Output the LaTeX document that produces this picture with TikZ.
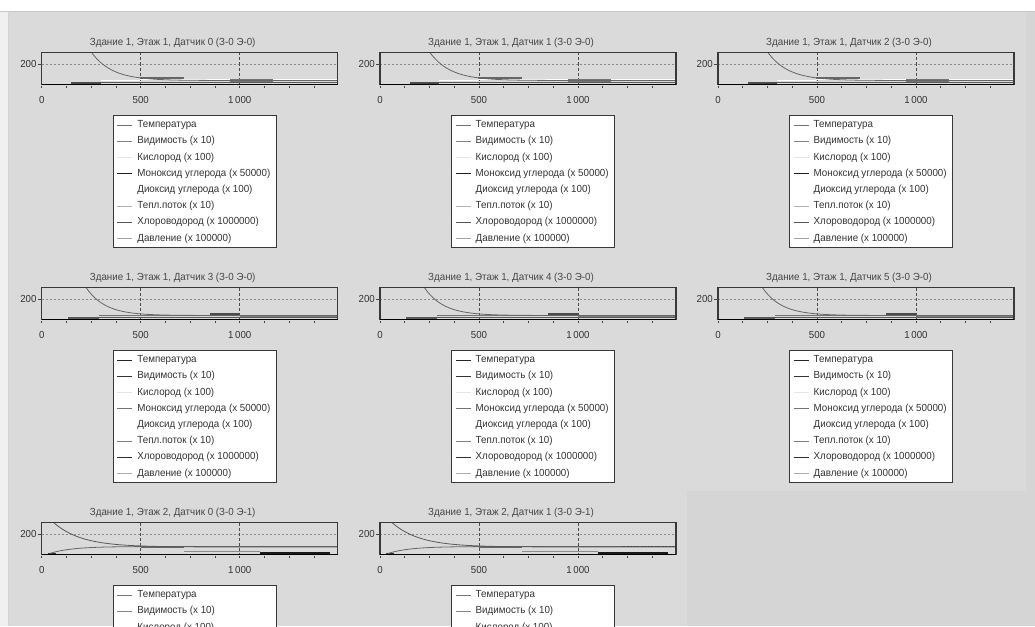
\documentclass[tikz,border=0pt]{standalone}
\usepackage{fontspec}
\setmainfont{Liberation Sans}[FakeStretch=0.95]
\usetikzlibrary{calc}

\definecolor{bgdark}{gray}{0.835}
\definecolor{bglight}{gray}{0.855}
\definecolor{framec}{gray}{0.22}
\definecolor{gridc}{gray}{0.55}
\definecolor{txtc}{gray}{0.20}
\definecolor{ttlc}{gray}{0.28}

% legend line colours, set A (lighter traces) and set B (darker traces)
\definecolor{lcA1}{gray}{0.45}
\definecolor{lcA2}{gray}{0.52}
\definecolor{lcA3}{gray}{0.90}
\definecolor{lcA4}{gray}{0.12}
\definecolor{lcA5}{gray}{1.00}
\definecolor{lcA6}{gray}{0.70}
\definecolor{lcA7}{gray}{0.33}
\definecolor{lcA8}{gray}{0.64}
\definecolor{lcB1}{gray}{0.15}
\definecolor{lcB2}{gray}{0.20}
\definecolor{lcB3}{gray}{0.90}
\definecolor{lcB4}{gray}{0.45}
\definecolor{lcB5}{gray}{1.00}
\definecolor{lcB6}{gray}{0.50}
\definecolor{lcB7}{gray}{0.18}
\definecolor{lcB8}{gray}{0.68}

\tikzset{
  chartframe/.style={draw=framec, line width=1.1pt},
  axisline/.style={draw=black, line width=1.8pt},
  hgrid/.style={draw=gridc, line width=0.6pt, dash pattern=on 2pt off 2pt},
  vgrid/.style={draw=gray!60!black, line width=0.6pt, dash pattern=on 3pt off 2pt},
  tickmark/.style={draw=gray!55!black, line width=0.6pt},
  ticklabel/.style={inner sep=0pt, text=txtc, font=\fontsize{10.2}{12}\selectfont},
  charttitle/.style={inner sep=0pt, text=ttlc, font=\fontsize{10.3}{12}\selectfont},
  legendbox/.style={draw=framec, fill=white, line width=0.9pt, inner sep=0pt,
    minimum width=163.3pt, minimum height=131.7pt, anchor=north west},
  legendtext/.style={inner sep=0pt, anchor=west, text=txtc, font=\fontsize{10.3}{12}\selectfont},
  trace/.style={line width=0.8pt},
}

% traces of the first floor sensors (0-2)
\newcommand{\curvesa}{%
  \fill[black!70] (29.7,29.3) rectangle (59.4,32);
  \draw[white, line width=1pt] (59.4,27.6) -- (98,27.6);
  \draw[white, line width=1pt] (98,27) -- (296,27);
  \draw[black!60, line width=1.4pt] (98,25.6) -- (142,25.6);
  \fill[black!55] (188,26) rectangle (231,29.5);
  \draw[black!65, trace] (59.4,30) -- (296,30);
  \draw[black!60, trace] plot[domain=252:1495, samples=90]
    ({0.198*\x},{32-0.1*(40+280*exp(-(\x-252)/103.6))});
}
% traces of the first floor sensors (3-5)
\newcommand{\curvesb}{%
  \fill[black!65] (26,29.5) rectangle (57,32);
  \draw[black!55, line width=1.3pt] (57,28) -- (150,28);
  \draw[white, line width=1pt] (150,27.5) -- (296,27.5);
  \fill[black!70] (168,25.8) rectangle (198,28.8);
  \draw[black!50, trace] (198,28.5) -- (296,28.5);
  \draw[black!65, trace] (57,30.2) -- (296,30.2);
  \draw[black!60, trace] plot[domain=224:1495, samples=90]
    ({0.198*\x},{32-0.1*(40+280*exp(-(\x-224)/96.5))});
}
% traces of the second floor sensors
\newcommand{\curvesc}{%
  \fill[black!80] (6,30) rectangle (14,32);
  \draw[black!60, trace] plot[domain=40:1495, samples=80]
    ({0.198*\x},{32-0.1*(10+70*(1-exp(-(\x-40)/110)))});
  \draw[black!60, line width=1.5pt] (99,24.5) -- (142,24.5);
  \draw[black!45, line width=1pt] (142,29) -- (218,29);
  \draw[black!90, line width=1.6pt] (218,30.5) -- (288,30.5);
  \draw[black!65, trace] plot[domain=60:1495, samples=90]
    ({0.198*\x},{32-0.1*(75+245*exp(-(\x-60)/140))});
}
\newcommand{\curvesd}{%
  \curvesc
  \draw[black!70, line width=1.2pt, dash pattern=on 2pt off 1.5pt] (243,24.2) -- (294,24.2);
}

% one sensor chart: #1 name, #2 x, #3 y, #4 title, #5 trace set, #6 legend colour set
\newcommand{\sensorchart}[6]{%
\begin{scope}[shift={(#2,#3)}]
  \node[charttitle] (#1-title) at (131,-10) {#4};
  \draw[hgrid] (0,12) -- (296,12);
  \draw[vgrid] (99,0) -- (99,32);
  \draw[vgrid] (198,0) -- (198,32);
  \csname curves#5\endcsname
  \draw[chartframe] (0,0) rectangle (296,32);
  \draw[axisline] (0,32) -- (296,32);
  \foreach \k in {0,...,11} \draw[tickmark] ({24.75*\k},33) -- ++(0,2.6);
  \draw[tickmark] (-4,12) -- (0,12);
  \node[ticklabel, anchor=east] (#1-y200) at (-5,11.5) {200};
  \node[ticklabel] (#1-x0) at (0,47.5) {0};
  \node[ticklabel] (#1-x500) at (99,47.5) {500};
  \node[ticklabel] (#1-x1000) at (198,47.5) {1\,000};
  \node[legendbox] (#1-legend) at (71,62.5) {};
  \foreach \t [count=\i] in {Температура, Видимость (x 10), Кислород (x 100),
      Моноксид углерода (x 50000), Диоксид углерода (x 100), Тепл.поток (x 10),
      Хлороводород (x 1000000), Давление (x 100000)} {
    \draw[draw=lc#6\i, line width=1pt] (75.5,{72.5+16.2*(\i-1)}) -- (90.5,{72.5+16.2*(\i-1)});
    \node[legendtext] (#1-e\i) at (95.5,{72.5+16.2*(\i-1)}) {\t};
  }
\end{scope}}

\begin{document}
\begin{tikzpicture}[x=1pt, y=-1pt]
  \useasboundingbox (0,0) rectangle (1035,626);
  \clip (0,0) rectangle (1035,626);
  % window background
  \fill[bgdark] (0,0) rectangle (1035,626);
  \fill[bglight] (8,11) rectangle (1026,491);
  \fill[bglight] (8,491) rectangle (687,626);
  \fill[white] (0,0) rectangle (1035,11);
  \fill[gray!12] (0,11) rectangle (8,626);
  \draw[gray!45, line width=0.8pt] (0,11.5) -- (1035,11.5);
  \draw[gray!35, line width=0.8pt] (8,11.5) -- (8,626);

  \sensorchart{s10}{41.7}{52.5}{Здание 1, Этаж 1, Датчик 0 (З-0 Э-0)}{a}{A}
  \sensorchart{s11}{380}{52.5}{Здание 1, Этаж 1, Датчик 1 (З-0 Э-0)}{a}{A}
  \sensorchart{s12}{718}{52.5}{Здание 1, Этаж 1, Датчик 2 (З-0 Э-0)}{a}{A}
  \sensorchart{s13}{41.7}{287.5}{Здание 1, Этаж 1, Датчик 3 (З-0 Э-0)}{b}{B}
  \sensorchart{s14}{380}{287.5}{Здание 1, Этаж 1, Датчик 4 (З-0 Э-0)}{b}{B}
  \sensorchart{s15}{718}{287.5}{Здание 1, Этаж 1, Датчик 5 (З-0 Э-0)}{b}{B}
  \sensorchart{s20}{41.7}{522.5}{Здание 1, Этаж 2, Датчик 0 (З-0 Э-1)}{c}{A}
  \sensorchart{s21}{380}{522.5}{Здание 1, Этаж 2, Датчик 1 (З-0 Э-1)}{d}{A}
\end{tikzpicture}
\end{document}
